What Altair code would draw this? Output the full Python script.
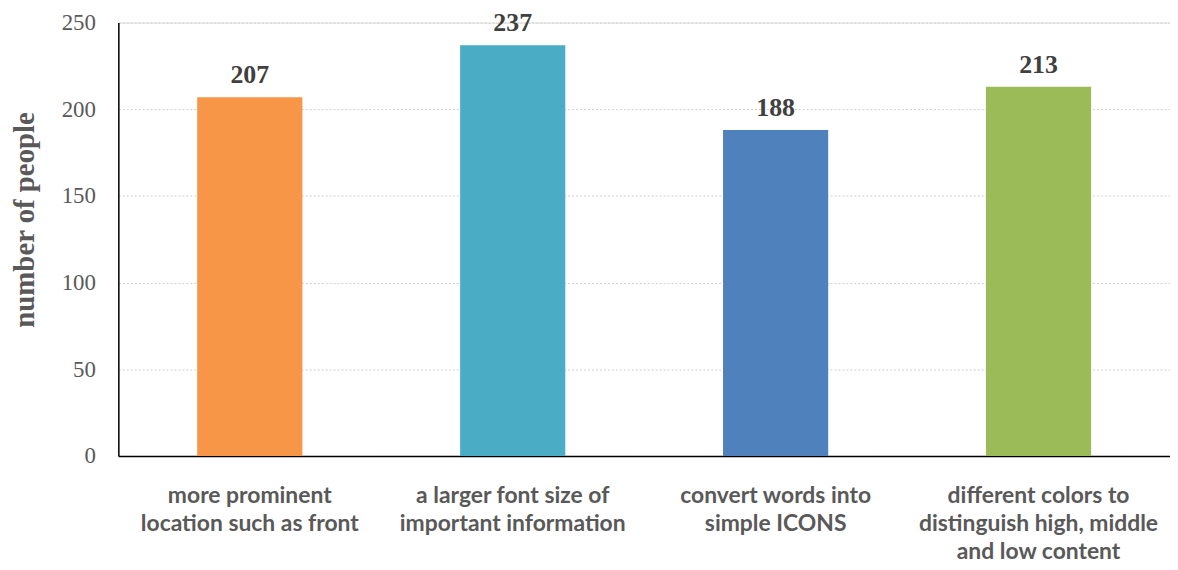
import altair as alt
import pandas as pd

categories = [
    "more prominent|location such as front",
    "a larger font size of|important information",
    "convert words into|simple ICONS",
    "different colors to|distinguish high, middle|and low content",
]
values = [207, 237, 188, 213]
colors = ["#F79646", "#4BACC6", "#4F81BD", "#9BBB59"]

df = pd.DataFrame({"cat": categories, "value": values, "color": colors})

x_enc = alt.X(
    "cat:N",
    sort=categories,
    title=None,
    scale=alt.Scale(paddingInner=0.6, paddingOuter=0.3),
    axis=alt.Axis(
        labelExpr="split(datum.label, '|')",
        labelAngle=0,
        labelFont="Lato",
        labelFontWeight="bold",
        labelFontSize=23,
        labelColor="#595959",
        labelLineHeight=28,
        labelPadding=40,
        labelBaseline="middle",
        labelLimit=0,
        ticks=False,
        domainColor="#000000",
        domainWidth=1.5,
        grid=False,
    ),
)

y_enc = alt.Y(
    "value:Q",
    scale=alt.Scale(domain=[0, 250], nice=False),
    axis=alt.Axis(
        title="number of people",
        values=[0, 50, 100, 150, 200, 250],
        titleFont="Liberation Serif",
        titleFontWeight="bold",
        titleFontSize=29,
        titleColor="#595959",
        titleAngle=-90,
        titleX=-94,
        titleY=198,
        titleAlign="center",
        titleBaseline="middle",
        labelFont="Liberation Serif",
        labelFontSize=23,
        labelColor="#595959",
        labelPadding=23,
        ticks=False,
        domainColor="#000000",
        domainWidth=1.5,
        grid=True,
        gridColor="#D0D0D0",
        gridDash=[2, 2],
        gridWidth=1,
    ),
)

bars = alt.Chart(df).mark_bar().encode(
    x=x_enc,
    y=y_enc,
    color=alt.Color("color:N", scale=None),
)

text = alt.Chart(df).mark_text(
    font="Liberation Serif",
    fontWeight="bold",
    fontSize=26,
    color="#404040",
    baseline="middle",
    dy=-22,
).encode(
    x=alt.X("cat:N", sort=categories),
    y=alt.Y("value:Q"),
    text="value:Q",
)

chart = (
    alt.layer(bars, text)
    .properties(
        width=1058,
        height=436,
        autosize=alt.AutoSizeParams(type="none"),
        padding={"left": 111, "top": 13, "right": 0, "bottom": 110},
    )
    .configure_view(stroke=None)
    .configure(background="white")
)

chart.save("out.html", embed_options={"renderer": "svg", "actions": False})
